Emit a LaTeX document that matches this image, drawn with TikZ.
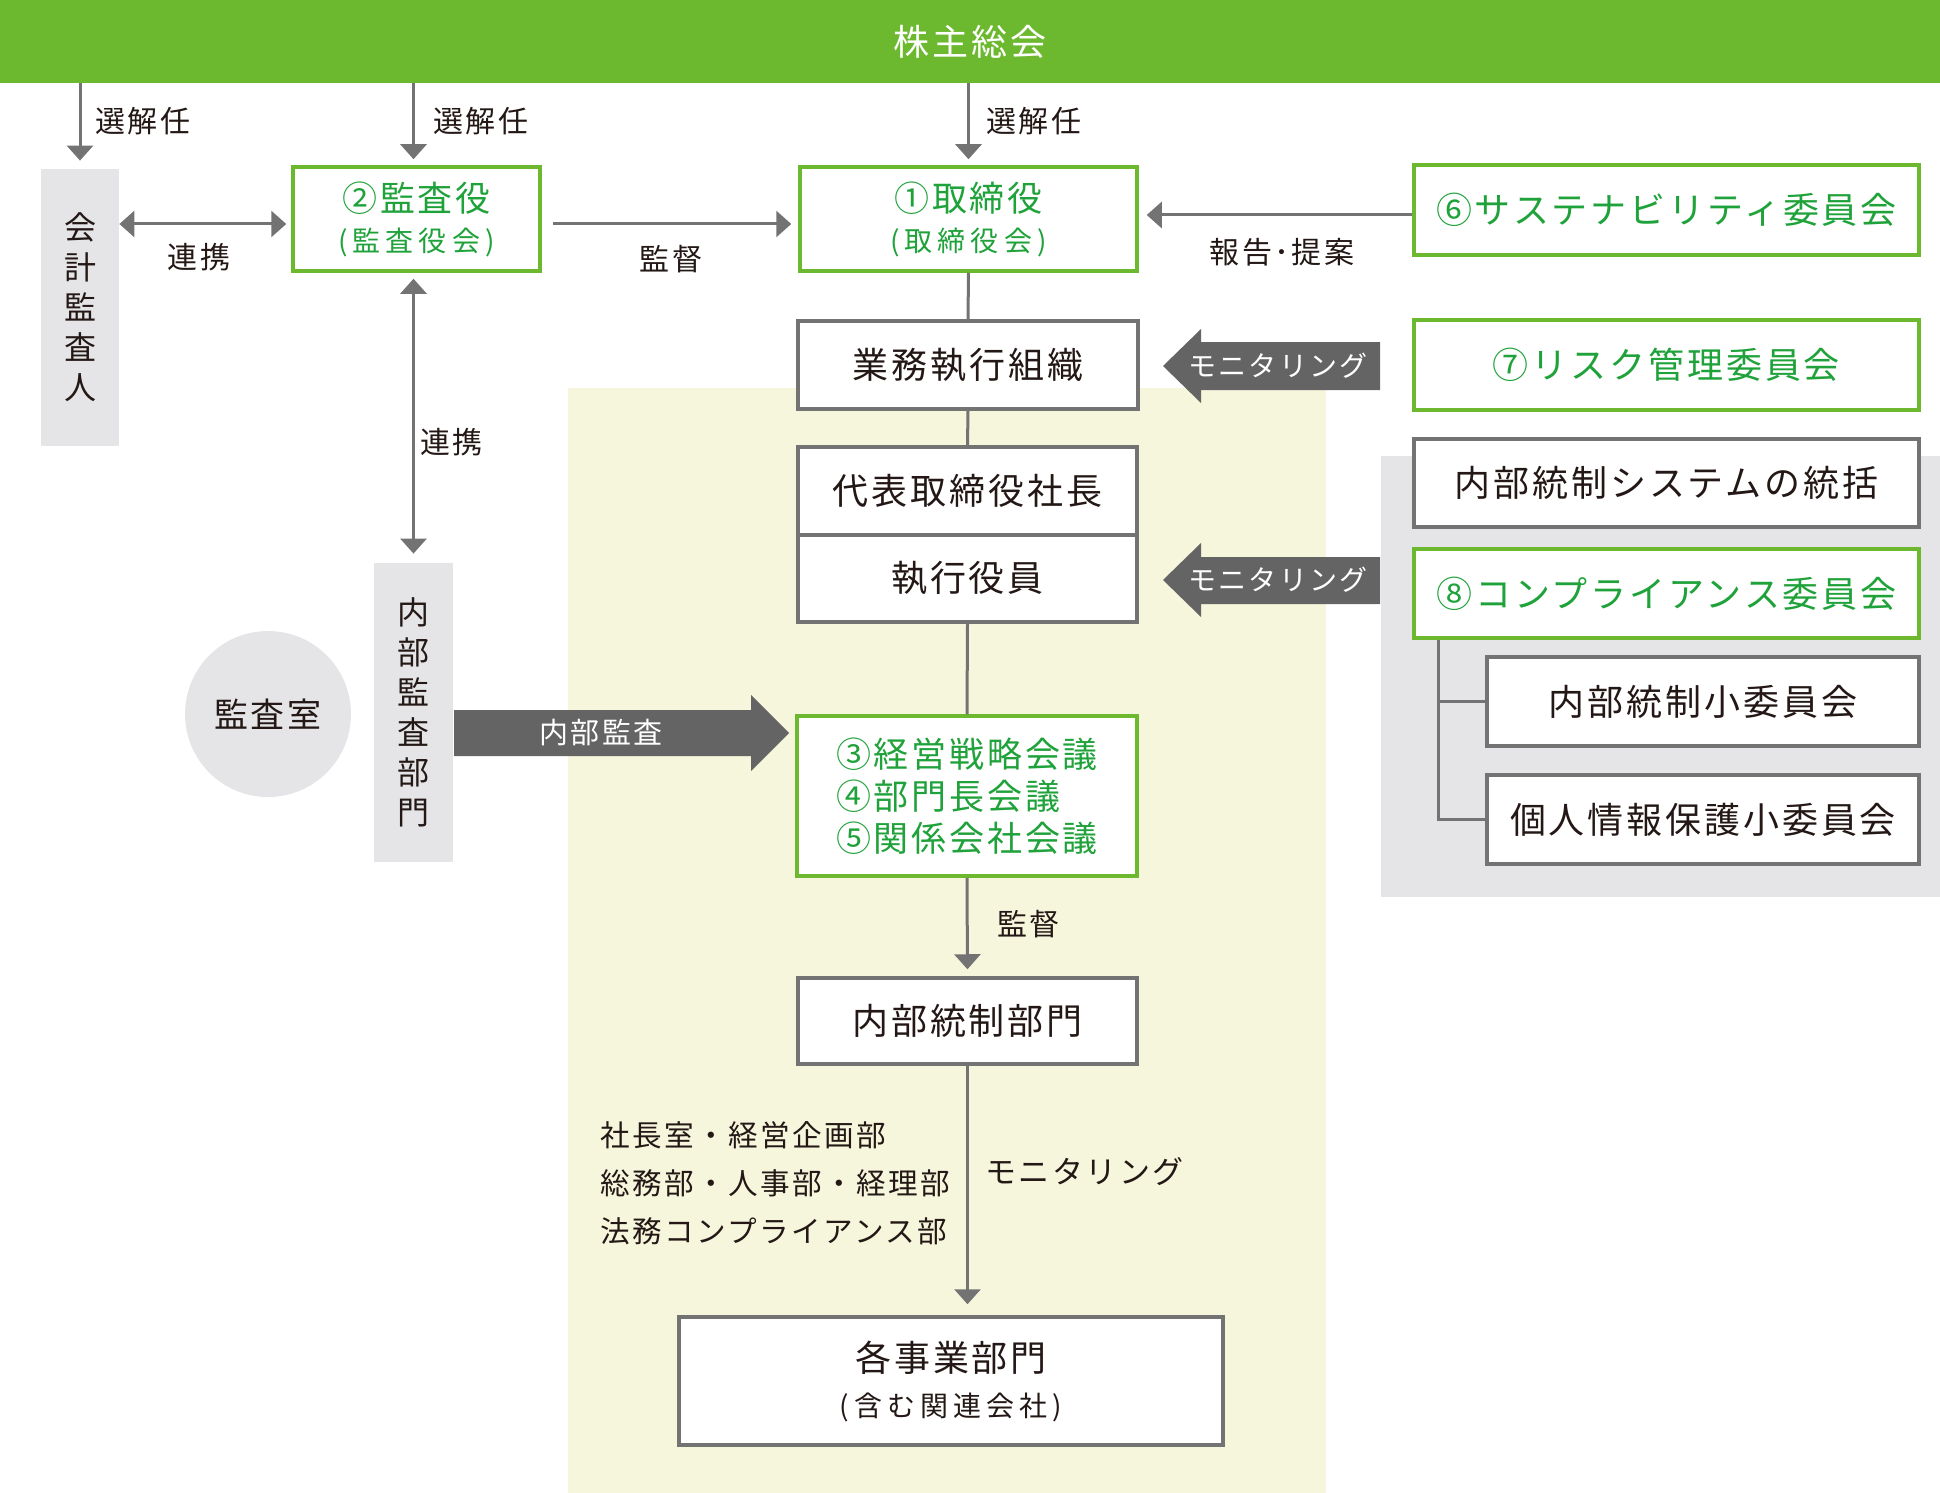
\documentclass[tikz,border=0pt]{standalone}
\usepackage{fontspec}
\newfontfamily\jp[LetterSpace=8]{Noto Sans CJK JP}
\newfontfamily\jpw[LetterSpace=18]{Noto Sans CJK JP}
\usetikzlibrary{arrows.meta,calc}
\definecolor{grn}{HTML}{6CB92F}
\definecolor{gtext}{HTML}{1FA23A}
\definecolor{lgray}{HTML}{747373}
\definecolor{dgray}{HTML}{646464}
\definecolor{bggray}{HTML}{E5E5E7}
\definecolor{beige}{HTML}{F6F6DD}
\definecolor{ink}{HTML}{231815}
\newcommand\fsL{\fontsize{18pt}{22pt}\selectfont}
\newcommand\fsV{\fontsize{16pt}{20pt}\selectfont}
\newcommand\fsS{\fontsize{15pt}{18pt}\selectfont}
\begin{document}
\begin{tikzpicture}[x=0.5pt,y=-0.5pt,
  every node/.append style={text=ink},
  box/.style={draw=lgray, line width=1.75pt, fill=white, inner sep=0pt, align=center, font=\jp\fsL},
  gbox/.style={draw=grn, line width=1.75pt, fill=white, inner sep=0pt, align=center, text=gtext, font=\jp\fsL},
  con/.style={draw=lgray, line width=1.5pt},
  arr/.style={con, -{Triangle[length=7.5pt,width=13pt]}},
  darr/.style={con, {Triangle[length=7.5pt,width=13pt]}-{Triangle[length=7.5pt,width=13pt]}},
  lbl/.style={font=\jp\fsS, inner sep=0pt},
  vbox/.style={fill=bggray, inner sep=0pt, align=center, font=\jp\fsV},
  wtxt/.style={text=white, inner sep=0pt, font=\jp\fontsize{14pt}{16pt}\selectfont}
]
\useasboundingbox (0,0) rectangle (1940,1493);
% backgrounds
\fill[beige] (568,388) rectangle (1326,1493);
\fill[bggray] (1381,456) rectangle (1940,897);

% top bar
\node[fill=grn, minimum width=970pt, minimum height=41.5pt, inner sep=0pt, text=white, font=\jp\fsL] (soukai) at (970,41.5) {株主総会};

% left column
\node[vbox, minimum width=39pt, minimum height=138.5pt] (kaikei) at (80,307.5) {会\\計\\監\\査\\人};
\node[gbox, minimum width=123.5pt, minimum height=52pt, font=\jp\fontsize{17.5pt}{20pt}\selectfont] (kansa) at (416.5,219) {②監査役\\{\jpw\fontsize{14pt}{20pt}\selectfont (監査役会)}};
\node[gbox, minimum width=168.5pt, minimum height=52pt, font=\jp\fontsize{17.5pt}{20pt}\selectfont] (torishimari) at (968.5,219) {①取締役\\{\jpw\fontsize{14pt}{20pt}\selectfont (取締役会)}};
\node[gbox, minimum width=252.5pt, minimum height=45pt] (sustain) at (1666.5,210) {⑥サステナビリティ委員会};

% central column
\node[box, minimum width=170pt, minimum height=44pt] (gyomu) at (968,365) {業務執行組織};
\node[box, minimum width=169.5pt, minimum height=44pt] (daihyo) at (967.5,491) {代表取締役社長};
\node[box, minimum width=169.5pt, minimum height=43.5pt] (shikko) at (967.5,578.5) {執行役員};
\node[gbox, minimum width=170pt, minimum height=80pt, align=left, font=\jp\fontsize{17.5pt}{21pt}\selectfont] (kaigi) at (967,796) {③経営戦略会議\\④部門長会議\\⑤関係会社会議};
\node[box, minimum width=169.5pt, minimum height=43pt] (ntbumon) at (967.5,1021) {内部統制部門};
\node[box, minimum width=272pt, minimum height=64pt, font=\jp\fontsize{18pt}{22.5pt}\selectfont] (kaku) at (951,1381) {各事業部門\\{\jpw\fontsize{14pt}{22.5pt}\selectfont (含む関連会社)}};

% right column
\node[gbox, minimum width=252.5pt, minimum height=45pt] (risk) at (1666.5,365) {⑦リスク管理委員会};
\node[box, minimum width=252.5pt, minimum height=44pt] (tousei) at (1666.5,483) {内部統制システムの統括};
\node[gbox, minimum width=252.5pt, minimum height=44.5pt] (comp) at (1666.5,593.5) {⑧コンプライアンス委員会};
\node[box, minimum width=216pt, minimum height=44.5pt] (sub1) at (1703,701.5) {内部統制小委員会};
\node[box, minimum width=216pt, minimum height=44.5pt] (sub2) at (1703,819.5) {個人情報保護小委員会};

% internal audit
\node[vbox, minimum width=39.5pt, minimum height=149.5pt] (naibukansa) at (413.5,712.5) {内\\部\\監\\査\\部\\門};
\node[circle, fill=bggray, minimum size=83pt, inner sep=0pt, font=\jp\fontsize{17pt}{20pt}\selectfont] (shitsu) at (268,714) {監査室};

% election arrows
\draw[arr] (soukai.south -| kaikei.north) -- ([yshift=4pt]kaikei.north);
\draw[arr] (soukai.south -| naibukansa.north) -- ([yshift=3pt]kansa.north -| naibukansa.north);
\draw[arr] (soukai.south -| torishimari.north) -- ([yshift=3pt]torishimari.north);
\node[lbl, anchor=west] (sk1) at (95,121) {選解任};
\node[lbl, anchor=west] (sk2) at (433,121) {選解任};
\node[lbl, anchor=west] (sk3) at (986,121) {選解任};

% cooperation / supervision
\path (kansa.west) ++(0,5) coordinate (c1);
\draw[darr, shorten >=2.5pt] (c1 -| kaikei.east) -- (c1);
\node[lbl] (renkei1) at (199,257) {連携};
\path (kansa.east) ++(0,5) coordinate (c2);
\draw[arr, shorten <=5.5pt, shorten >=3.5pt] (c2) -- (c2 -| torishimari.west);
\node[lbl] (kantoku1) at (671,259) {監督};
\path (sustain.west) ++(0,5) coordinate (c3);
\draw[arr, shorten >=4pt] (c3) -- (c3 -| torishimari.east);
\node[lbl] (hokoku) at (1282,252) {報告･提案};

\draw[darr, shorten <=3pt, shorten >=4.5pt] (kansa.south -| naibukansa.north) -- (naibukansa.north);
\node[lbl, anchor=west] (renkei2) at (420,442) {連携};

% central connectors
\draw[con] (torishimari.south) -- (gyomu.north);
\draw[con] (gyomu.south) -- (daihyo.north);
\draw[con] (shikko.south) -- (kaigi.north);
\draw[arr, shorten >=3.5pt] (kaigi.south) -- (ntbumon.north);
\node[lbl, anchor=west] (kantoku2) at (997,924) {監督};
\draw[arr, shorten >=5.5pt] (ntbumon.south) -- (ntbumon.south |- kaku.north);
\node[lbl, anchor=west, font=\jp\fontsize{15.5pt}{18pt}\selectfont] (mon3) at (985,1172) {モニタリング};
\node[anchor=west, align=left, inner sep=0pt, font=\jp\fontsize{14.8pt}{24pt}\selectfont] (depts) at (600,1183) {社長室・経営企画部\\総務部・人事部・経理部\\法務コンプライアンス部};

% tree
\coordinate (tr) at ($(comp.south west)+(26,0)$);
\draw[con] (tr) |- (sub2.west);
\draw[con] (tr |- sub1.west) -- (sub1.west);

% big arrows
\fill[dgray] (1380,342) -- (1201,342) -- (1201,329) -- (1163,366) -- (1201,403) -- (1201,390) -- (1380,390) -- cycle;
\node[wtxt] (mon1) at (1278,366) {モニタリング};
\fill[dgray] (1380,557) -- (1201,557) -- (1201,543) -- (1163,580) -- (1201,617) -- (1201,604) -- (1380,604) -- cycle;
\node[wtxt] (mon2) at (1278,580) {モニタリング};
\fill[dgray] (454,710) -- (751,710) -- (751,695) -- (789,733) -- (751,771) -- (751,756) -- (454,756) -- cycle;
\node[wtxt, font=\jp\fontsize{14.5pt}{16pt}\selectfont] (naibu) at (601,733) {内部監査};
\end{tikzpicture}
\end{document}
